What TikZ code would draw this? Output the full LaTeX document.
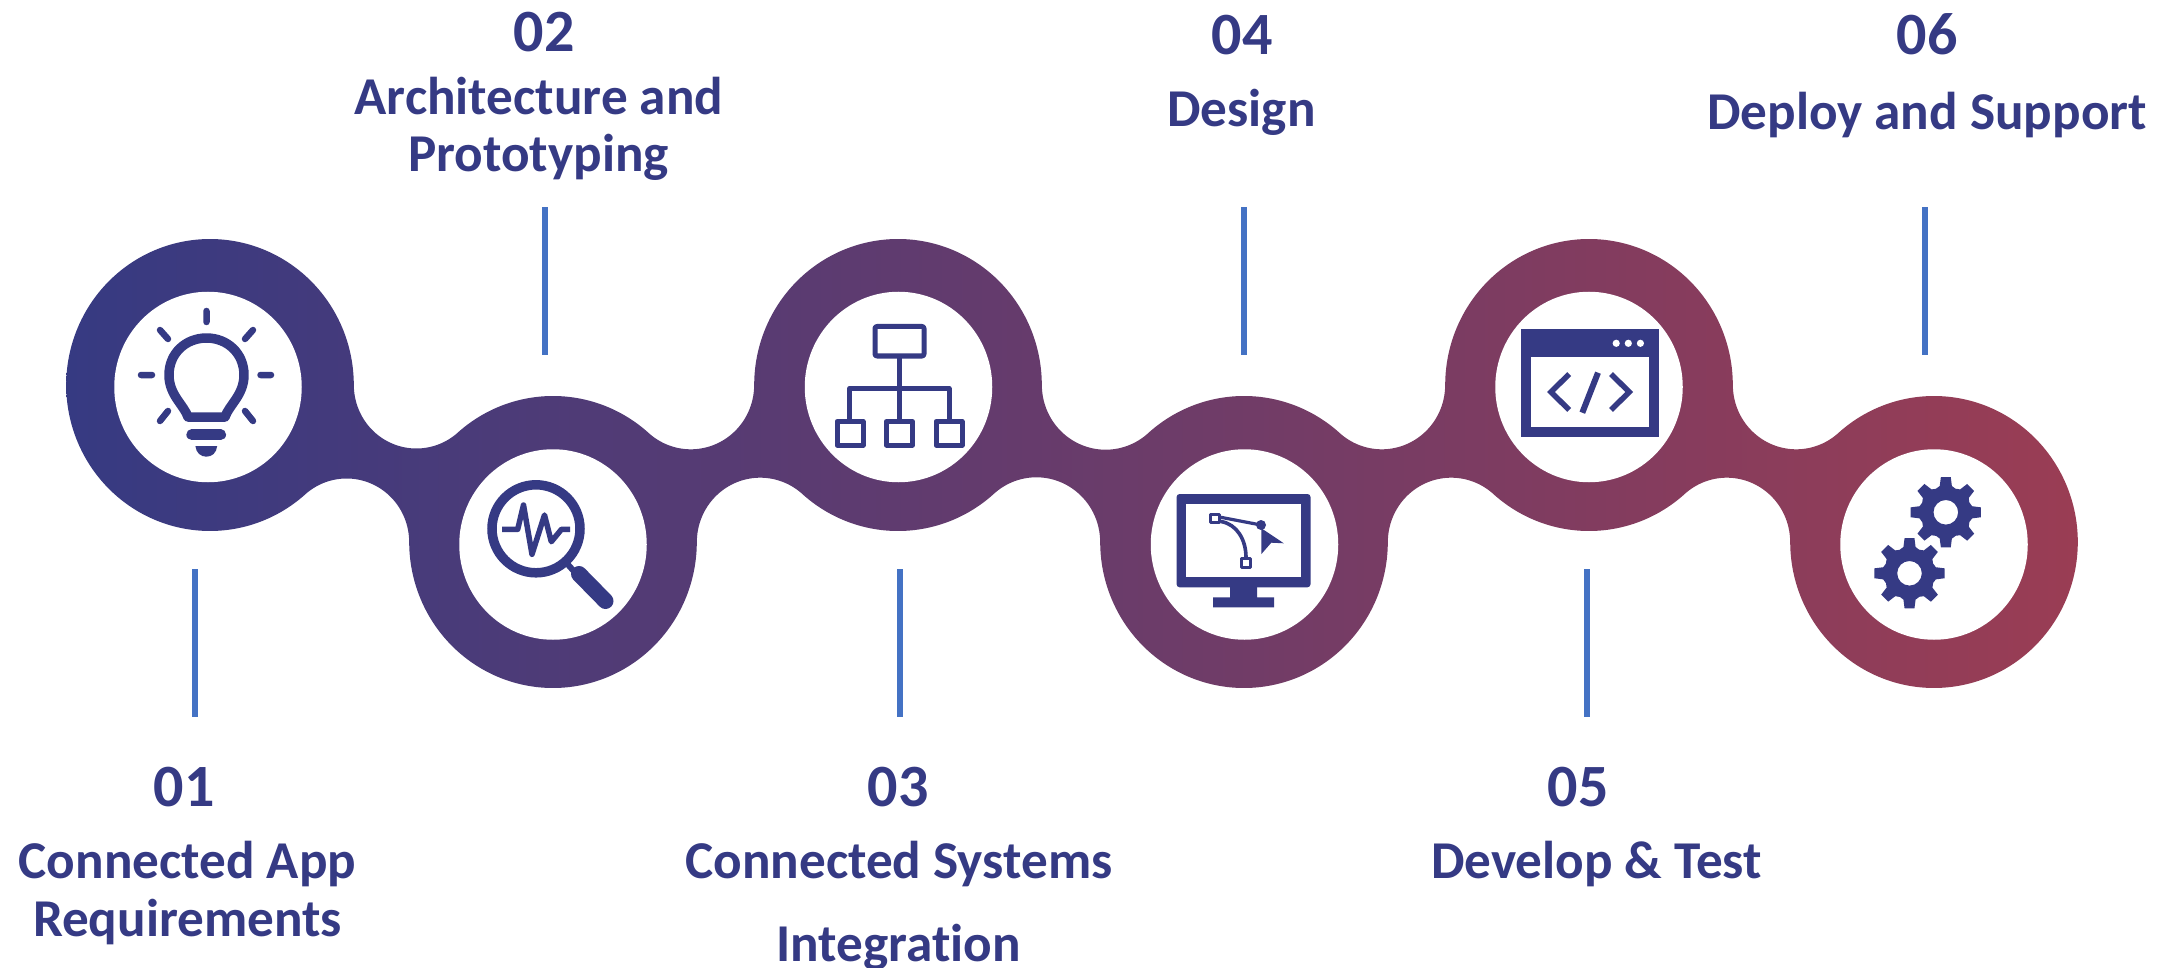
\documentclass[tikz,border=0pt]{standalone}
\usepackage{fontspec}
\usetikzlibrary{shapes.geometric}
\setmainfont[Ligatures=NoCommon]{Carlito}
\definecolor{navy}{HTML}{353A84}
\definecolor{ribL}{HTML}{363A82}
\definecolor{ribR}{HTML}{9A3D54}
\definecolor{tick}{HTML}{4472C4}
\tikzset{
  tarc/.style n args={5}{insert path={-- plot[domain=#4:#5,samples=200] ({#1+0.985*#3*cos(\x)},{#2+#3*sin(\x)})}},
  hole/.style={ellipse,fill=white,inner sep=0pt,minimum width=187.5pt,minimum height=190.5pt},
  tickline/.style={draw=tick,line width=6pt},
  num/.style={anchor=base,text=navy,font=\bfseries\fontsize{60}{60}\selectfont,inner sep=0pt},
  lab/.style={anchor=base,text=navy,font=\bfseries\fontsize{53.2}{58}\selectfont,inner sep=0pt},
  ink/.style={draw=navy,line join=round},
  raystyle/.style={draw=navy,line width=6.5pt,line cap=round},
}
\newcommand{\geartooth}[2]{%
  \fill[navy,even odd rule] ({#1+27*cos(-103)},{#2+27*sin(-103)})
    \foreach \k in {0,...,7}{
      -- ({#1+27*cos(\k*45-103)},{#2+27*sin(\k*45-103)})
      -- ({#1+35.5*cos(\k*45-98)},{#2+35.5*sin(\k*45-98)})
      -- ({#1+35.5*cos(\k*45-82)},{#2+35.5*sin(\k*45-82)})
      -- ({#1+27*cos(\k*45-77)},{#2+27*sin(\k*45-77)})
      -- ({#1+25.5*cos(\k*45-68)},{#2+25.5*sin(\k*45-68)})
    } -- cycle ({#1},{#2}) circle[radius=12.3pt];}
\begin{document}
\begin{tikzpicture}[x=1pt,y=-1pt]
\useasboundingbox (0,0) rectangle (2169,968);
% ribbon
\shade[left color=ribL,right color=ribR]
  ({210+0.985*146*cos(48.54)},{385+146*sin(48.54)})
  [tarc={210}{385}{146}{48.54}{360}]
  [tarc={416.4}{385}{63.5}{180}{48.54}]
  [tarc={553}{542}{146}{228.54}{311.71}]
  [tarc={690.8}{385}{64.3}{131.71}{0}]
  [tarc={898}{385}{146}{180}{360}]
  [tarc={1105.6}{385}{64.7}{180}{48.16}]
  [tarc={1244}{542}{146}{228.16}{311.71}]
  [tarc={1381.8}{385}{64.3}{131.71}{0}]
  [tarc={1589}{385}{146}{180}{360}]
  [tarc={1796.2}{385}{64.3}{180}{48.29}]
  [tarc={1934}{542}{146}{228.29}{540}]
  [tarc={1726.8}{542}{64.3}{0}{-131.71}]
  [tarc={1589}{385}{146}{48.29}{131.71}]
  [tarc={1451.2}{542}{64.3}{-48.29}{-180}]
  [tarc={1244}{542}{146}{0}{180}]
  [tarc={1036.4}{542}{64.7}{0}{-131.84}]
  [tarc={898}{385}{146}{48.16}{131.71}]
  [tarc={760.2}{542}{64.3}{-48.29}{-180}]
  [tarc={553}{542}{146}{0}{180}]
  [tarc={346.6}{542}{63.5}{0}{-131.46}]
  -- cycle;
% white discs
\node[hole] (c1) at (208,387) {};
\node[hole] (c2) at (553,544.5) {};
\node[hole] (c3) at (898.5,387) {};
\node[hole] (c4) at (1244.5,544.5) {};
\node[hole] (c5) at (1589,387) {};
\node[hole] (c6) at (1934,544.5) {};
% tick lines
\coordinate (t1a) at (195,569); \coordinate (t1b) at (195,717);
\coordinate (t2a) at (544.5,207.5); \coordinate (t2b) at (544.5,355);
\coordinate (t3a) at (900,569); \coordinate (t3b) at (900,717);
\coordinate (t4a) at (1243.5,207.5); \coordinate (t4b) at (1243.5,355);
\coordinate (t5a) at (1587,569); \coordinate (t5b) at (1587,717);
\coordinate (t6a) at (1925,207.5); \coordinate (t6b) at (1925,355);
\foreach \i in {1,...,6}{\draw[tickline] (t\i a) -- (t\i b);}
% labels
\node[num] (n1) at (184,806.5) {01};
\node[lab] (l1a) at (187.5,878) {Connected App};
\node[lab] (l1b) at (187.5,936) {Requirements};
\node[num] (n2) at (544,52) {02};
\node[lab] (l2a) at (539,115) {Architecture and};
\node[lab] (l2b) at (538.5,172) {Prototyping};
\node[num] (n3) at (898,806.5) {03};
\node[lab] (l3a) at (899,878) {Connected Systems};
\node[lab] (l3b) at (898.5,961) {Integration};
\node[num] (n4) at (1242,55) {04};
\node[lab] (l4) at (1241.5,127) {Design};
\node[num] (n5) at (1578,806.5) {05};
\node[lab] (l5) at (1596.5,878) {Develop \& Test};
\node[num] (n6) at (1927,55) {06};
\node[lab] (l6) at (1927,130) {Deploy and Support};
% bulb
\draw[raystyle] (206.5,311)--(206.5,322) (160,330)--(168,339) (253,330)--(245,339)
  (141,375)--(152,375) (260.5,375)--(271,375) (168,411)--(160,421) (245,411)--(253,421);
\draw[ink,line width=9.5pt] (188,417) .. controls (184,405) and (169,395) .. (169,375)
  .. controls (169,353) and (186,338) .. (206.5,338)
  .. controls (227,338) and (244,353) .. (244,375)
  .. controls (244,395) and (229,405) .. (225,417) -- cycle;
\draw[navy,line width=10.7pt,line cap=round] (191.7,434.7) -- (220.7,434.7);
\fill[navy] (195.4,446) .. controls (196,453) and (201,456.7) .. (206.3,456.7)
  .. controls (212,456.7) and (216.5,453) .. (217.2,446) -- cycle;
% magnifier
\draw[navy,line width=9.5pt] (536,528.8) circle[radius=44pt];
\draw[ink,line width=5.5pt] (502,529.3)--(517.7,529.3)--(523.5,505)--(532,554.3)--(544.5,515)--(551.3,541.7)--(561.5,529.3)--(570,529.3);
\draw[navy,line width=6pt] (566.8,563.3) -- (580,578);
\draw[navy,line width=16pt,line cap=round] (579,574) -- (605.5,601);
% hierarchy
\draw[ink,line width=5pt,rounded corners=2pt] (875,326.5) rectangle (924,356);
\draw[ink,line width=5pt] (899.4,356) -- (899.4,420) (849.8,420) -- (849.8,388.3) -- (949,388.3) -- (949,420);
\draw[ink,line width=5pt] (837,421.5) rectangle (863,445);
\draw[ink,line width=5pt] (886.4,421.5) rectangle (912.4,445);
\draw[ink,line width=5pt] (936,421.5) rectangle (962,445);
% monitor
\fill[navy,rounded corners=3pt] (1176.6,494) rectangle (1310.5,587.3);
\fill[white] (1186.4,504) rectangle (1300.7,577.3);
\fill[navy] (1230,587) rectangle (1257,597.5) (1213.2,597.3) rectangle (1274,607.3);
\draw[ink,line width=3pt] (1210.3,514.2) rectangle (1219.3,522.8);
\draw[ink,line width=3pt] (1241.5,558.8) rectangle (1250.1,567.2);
\draw[ink,line width=3.2pt] (1220.8,517.3) -- (1261,525);
\draw[ink,line width=3.6pt] (1220.8,521.5) .. controls (1237,524) and (1246,540) .. (1246,557.3);
\fill[navy] (1261,525) circle[radius=5pt];
\fill[navy] (1261.4,528.3) -- (1283.8,543.3) -- (1271.3,542.7) -- (1261.4,554) -- cycle;
% code window
\fill[navy] (1520.9,329.3) rectangle (1659.4,437);
\fill[white] (1531.1,357.3) rectangle (1649.2,426.7);
\fill[white] (1616.2,343.3) circle[radius=3.6pt] (1628.3,343.3) circle[radius=3.6pt] (1640.4,343.3) circle[radius=3.6pt];
\draw[navy,line width=5.5pt,line join=miter] (1569.2,374) -- (1551,392) -- (1569.2,410);
\draw[navy,line width=5.5pt,line join=miter] (1611,374) -- (1629.2,392) -- (1611,410);
\draw[navy,line width=6pt] (1598,372.7) -- (1582.3,412.7);
% gears
\geartooth{1945.8}{512.3}
\geartooth{1909.5}{573.3}
\end{tikzpicture}
\end{document}
